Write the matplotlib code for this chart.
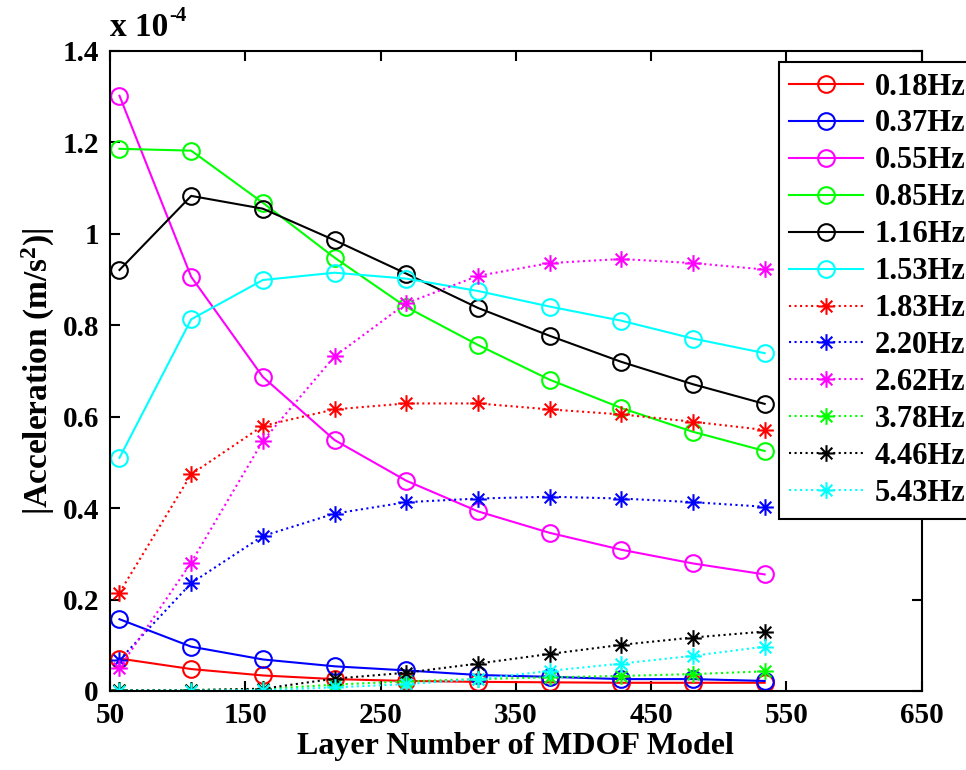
import matplotlib
matplotlib.use("Agg")
import matplotlib.pyplot as plt
from matplotlib.path import Path
from matplotlib.ticker import FuncFormatter

plt.rcParams['font.family'] = ['Liberation Serif', 'DejaVu Serif']
plt.rcParams['font.weight'] = 'bold'
plt.rcParams['mathtext.fontset'] = 'custom'
plt.rcParams['mathtext.rm'] = 'Liberation Serif:bold'
plt.rcParams['mathtext.bf'] = 'Liberation Serif:bold'
plt.rcParams['mathtext.it'] = 'Liberation Serif:bold'
plt.rcParams['mathtext.default'] = 'bf'

layers = [57, 110, 163, 216, 269, 322, 375, 428, 481, 534]

labels = ["0.18Hz", "0.37Hz", "0.55Hz", "0.85Hz", "1.16Hz", "1.53Hz",
          "1.83Hz", "2.20Hz", "2.62Hz", "3.78Hz", "4.46Hz", "5.43Hz"]

# values in units of 1e-4 m/s^2
a_018 = [0.071, 0.048, 0.034, 0.026, 0.022, 0.020, 0.019, 0.018, 0.018, 0.018]
a_037 = [0.157, 0.097, 0.069, 0.054, 0.045, 0.035, 0.031, 0.026, 0.026, 0.022]
a_055 = [1.302, 0.906, 0.687, 0.549, 0.460, 0.393, 0.346, 0.309, 0.279, 0.255]
a_085 = [1.186, 1.182, 1.068, 0.948, 0.840, 0.757, 0.681, 0.619, 0.567, 0.525]
a_116 = [0.921, 1.083, 1.055, 0.986, 0.913, 0.838, 0.777, 0.720, 0.671, 0.628]
a_153 = [0.510, 0.813, 0.899, 0.915, 0.902, 0.875, 0.841, 0.810, 0.771, 0.739]
a_183 = [0.215, 0.474, 0.580, 0.616, 0.629, 0.629, 0.616, 0.605, 0.589, 0.571]
a_220 = [0.068, 0.236, 0.339, 0.388, 0.413, 0.421, 0.425, 0.421, 0.413, 0.403]
a_262 = [0.051, 0.281, 0.547, 0.732, 0.848, 0.908, 0.936, 0.945, 0.936, 0.922]
a_378 = [0.002, 0.002, 0.004, 0.014, 0.021, 0.026, 0.030, 0.033, 0.037, 0.043]
a_446 = [0.002, 0.002, 0.005, 0.027, 0.040, 0.060, 0.081, 0.101, 0.117, 0.130]
a_543 = [0.001, 0.001, 0.002, 0.008, 0.015, 0.026, 0.044, 0.060, 0.077, 0.097]

series = [a_018, a_037, a_055, a_085, a_116, a_153,
          a_183, a_220, a_262, a_378, a_446, a_543]
colors = ['#ff0000', '#0000ff', '#ff00ff', '#00ff00', '#000000', '#00ffff'] * 2

# MATLAB-like asterisk marker (unfilled)
verts = [(0, -1), (0, 1), (-1, 0), (1, 0), (-0.7, -0.7), (0.7, 0.7), (-0.7, 0.7), (0.7, -0.7)]
codes = [Path.MOVETO, Path.LINETO] * 4
asterisk = Path(verts, codes)

fig = plt.figure(figsize=(9.66, 7.70), dpi=100)
ax = fig.add_axes([0.1139, 0.1026, 0.8401, 0.8312])

for i, (lab, vals) in enumerate(zip(labels, series)):
    if i < 6:
        ax.plot(layers, vals, color=colors[i], linestyle='-', linewidth=1.5,
                marker='o', markersize=12, markerfacecolor='none',
                markeredgecolor=colors[i], markeredgewidth=1.5, label=lab)
    else:
        ax.plot(layers, vals, color=colors[i], linestyle=':', linewidth=1.5,
                marker=asterisk, markersize=12, markerfacecolor='none',
                markeredgecolor=colors[i], markeredgewidth=1.5, label=lab)

ax.set_xlim(50, 650)
ax.set_ylim(0, 1.4)
ax.set_xticks([50, 150, 250, 350, 450, 550, 650])
ax.set_yticks([0, 0.2, 0.4, 0.6, 0.8, 1.0, 1.2, 1.4])
ax.yaxis.set_major_formatter(FuncFormatter(lambda v, p: ('%g' % round(v, 2))))
ax.tick_params(direction='in', length=7, width=1.5, top=True, right=True,
               labelsize=21, pad=8)
for lbl in ax.get_xticklabels() + ax.get_yticklabels():
    lbl.set_fontweight('bold')
for s in ax.spines.values():
    s.set_linewidth(1.5)

ax.set_xlabel("Layer Number of MDOF Model", fontsize=23, fontweight='bold', labelpad=2)
ax.set_ylabel("|Acceleration (m/s$^{2}$)|", fontsize=24, fontweight='bold', labelpad=4)
t1 = ax.text(0.0, 1.012, "x 10", transform=ax.transAxes, fontsize=24,
             fontweight='bold', ha='left', va='bottom')
ax.annotate("-4", xy=(1.0, 0.55), xycoords=t1, xytext=(1, 0), textcoords='offset points',
            fontsize=15, fontweight='bold', ha='left', va='bottom')

leg = ax.legend(loc='upper left', bbox_to_anchor=(0.824, 0.983), borderaxespad=0,
                fontsize=22, handlelength=2.4, labelspacing=0.26, fancybox=False,
                framealpha=1, edgecolor='black', borderpad=0.35, handletextpad=0.4)
leg.get_frame().set_linewidth(1.5)
for t in leg.get_texts():
    t.set_fontweight('bold')

fig.savefig("out.png", dpi=100)
